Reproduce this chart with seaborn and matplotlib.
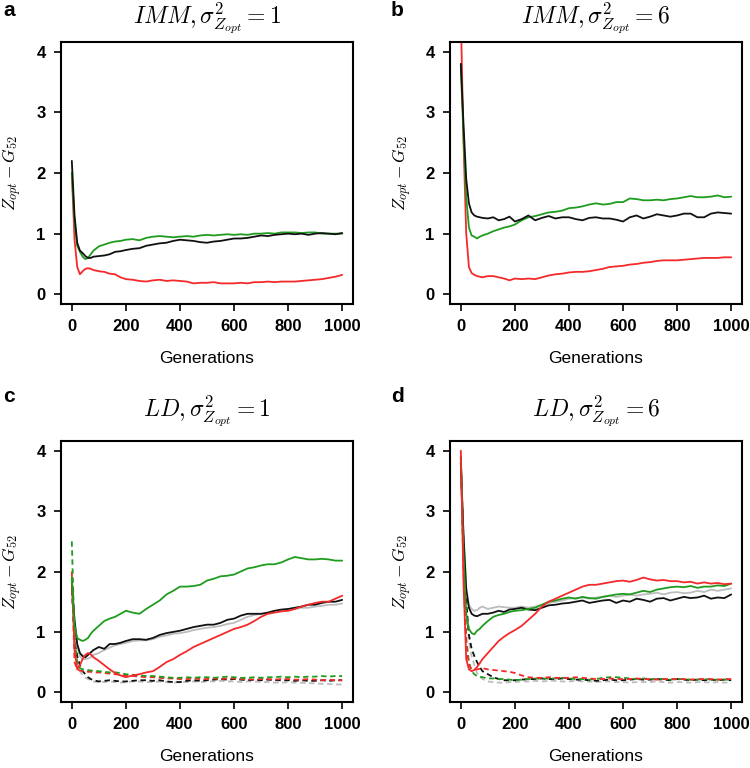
import matplotlib
matplotlib.use("Agg")
import matplotlib.pyplot as plt
import pandas as pd
import seaborn as sns

# ------------------------------------------------------------
# data
# ------------------------------------------------------------
gens = [0, 10, 20, 30, 40, 50, 60, 70, 80, 100, 120, 140, 160, 180,
        200, 225, 250, 275, 300, 325, 350, 375, 400, 425, 450, 475, 500,
        525, 550, 575, 600, 625, 650, 675, 700, 725, 750, 775, 800, 825,
        850, 875, 900, 925, 950, 975, 1000]

# panel a : IMM, sigma^2 = 1
a_red = [2.0, 0.9, 0.45, 0.33, 0.38, 0.42, 0.43, 0.42, 0.40, 0.38, 0.37, 0.34, 0.33, 0.28,
         0.25, 0.24, 0.22, 0.21, 0.23, 0.24, 0.22, 0.23, 0.22, 0.21, 0.18, 0.19, 0.19, 0.20, 0.18,
         0.18, 0.18, 0.19, 0.18, 0.20, 0.20, 0.21, 0.20, 0.21, 0.21, 0.21, 0.22, 0.23, 0.24, 0.25,
         0.27, 0.29, 0.32]
a_green = [2.0, 1.2, 0.8, 0.7, 0.62, 0.58, 0.6, 0.66, 0.72, 0.79, 0.82, 0.85, 0.87, 0.88,
           0.9, 0.91, 0.89, 0.93, 0.95, 0.96, 0.95, 0.94, 0.95, 0.96, 0.95, 0.97, 0.98, 0.97, 0.98,
           0.99, 0.98, 0.99, 0.98, 1.0, 1.0, 1.01, 1.0, 1.02, 1.02, 1.02, 1.01, 1.02, 1.02, 1.0,
           1.0, 1.0, 1.0]
a_black = [2.2, 1.3, 0.85, 0.72, 0.68, 0.63, 0.6, 0.6, 0.62, 0.63, 0.64, 0.66, 0.70, 0.71,
           0.73, 0.75, 0.76, 0.80, 0.82, 0.84, 0.85, 0.88, 0.90, 0.89, 0.88, 0.86, 0.85, 0.87, 0.88,
           0.90, 0.92, 0.92, 0.93, 0.95, 0.97, 0.96, 0.98, 0.99, 1.0, 0.99, 1.0, 0.98, 1.0, 1.01,
           1.0, 0.99, 1.01]

# panel b : IMM, sigma^2 = 6
b_red = [4.6, 2.5, 1.0, 0.45, 0.35, 0.32, 0.30, 0.29, 0.28, 0.30, 0.30, 0.28, 0.26, 0.23,
         0.26, 0.25, 0.26, 0.25, 0.28, 0.31, 0.33, 0.34, 0.36, 0.37, 0.37, 0.38, 0.40, 0.42, 0.45,
         0.46, 0.47, 0.49, 0.50, 0.52, 0.53, 0.55, 0.56, 0.56, 0.56, 0.57, 0.58, 0.59, 0.60, 0.60,
         0.60, 0.61, 0.61]
b_green = [3.75, 2.6, 1.6, 1.1, 0.97, 0.95, 0.92, 0.95, 0.97, 1.0, 1.04, 1.07, 1.1, 1.12,
           1.15, 1.22, 1.27, 1.29, 1.32, 1.35, 1.36, 1.38, 1.42, 1.43, 1.45, 1.48, 1.50, 1.48, 1.49,
           1.52, 1.52, 1.58, 1.57, 1.55, 1.55, 1.56, 1.55, 1.57, 1.58, 1.60, 1.62, 1.60, 1.60, 1.61,
           1.63, 1.60, 1.61]
b_black = [3.8, 2.8, 1.9, 1.5, 1.35, 1.30, 1.28, 1.27, 1.26, 1.25, 1.27, 1.22, 1.24, 1.28,
           1.20, 1.24, 1.30, 1.22, 1.26, 1.29, 1.25, 1.27, 1.27, 1.24, 1.22, 1.26, 1.27, 1.25, 1.25,
           1.23, 1.20, 1.27, 1.30, 1.25, 1.28, 1.32, 1.30, 1.28, 1.30, 1.33, 1.33, 1.27, 1.27, 1.33,
           1.35, 1.34, 1.33]

# panel c : LD, sigma^2 = 1 (solid and dashed runs)
c_red = [1.9, 0.7, 0.38, 0.45, 0.55, 0.62, 0.65, 0.63, 0.58, 0.52, 0.45, 0.38, 0.32, 0.28,
         0.25, 0.28, 0.30, 0.33, 0.35, 0.42, 0.50, 0.55, 0.62, 0.68, 0.75, 0.80, 0.85, 0.90, 0.95,
         1.00, 1.05, 1.08, 1.12, 1.18, 1.25, 1.30, 1.32, 1.34, 1.35, 1.38, 1.42, 1.45, 1.48, 1.50,
         1.50, 1.55, 1.60]
c_green = [1.9, 1.1, 0.9, 0.87, 0.85, 0.87, 0.90, 0.97, 1.02, 1.10, 1.18, 1.22, 1.25, 1.30,
           1.35, 1.32, 1.30, 1.38, 1.45, 1.52, 1.62, 1.68, 1.75, 1.75, 1.76, 1.78, 1.85, 1.88, 1.92,
           1.93, 1.95, 2.0, 2.05, 2.07, 2.10, 2.12, 2.12, 2.15, 2.20, 2.24, 2.22, 2.20, 2.20, 2.21,
           2.20, 2.18, 2.18]
c_black = [1.8, 1.2, 0.8, 0.65, 0.60, 0.58, 0.62, 0.66, 0.70, 0.75, 0.72, 0.80, 0.80, 0.82,
           0.85, 0.88, 0.88, 0.87, 0.90, 0.95, 0.98, 1.00, 1.02, 1.05, 1.08, 1.10, 1.12, 1.12, 1.15,
           1.20, 1.22, 1.27, 1.30, 1.30, 1.30, 1.32, 1.35, 1.37, 1.38, 1.40, 1.42, 1.45, 1.45, 1.48,
           1.50, 1.50, 1.53]
c_gray = [1.8, 1.1, 0.75, 0.6, 0.55, 0.55, 0.56, 0.58, 0.62, 0.65, 0.70, 0.74, 0.78, 0.80,
          0.82, 0.85, 0.86, 0.86, 0.88, 0.92, 0.94, 0.97, 0.98, 1.00, 1.03, 1.05, 1.07, 1.08, 1.10,
          1.13, 1.15, 1.20, 1.25, 1.28, 1.30, 1.30, 1.33, 1.35, 1.36, 1.38, 1.40, 1.40, 1.42, 1.43,
          1.45, 1.45, 1.47]
c_red_d = [2.0, 0.5, 0.38, 0.36, 0.35, 0.35, 0.34, 0.34, 0.33, 0.33, 0.32, 0.31, 0.30, 0.29,
           0.28, 0.27, 0.26, 0.25, 0.25, 0.24, 0.23, 0.23, 0.22, 0.22, 0.23, 0.22, 0.22, 0.23, 0.22,
           0.23, 0.23, 0.22, 0.22, 0.21, 0.22, 0.22, 0.21, 0.22, 0.22, 0.21, 0.21, 0.22, 0.21, 0.20,
           0.21, 0.20, 0.20]
c_green_d = [2.5, 0.9, 0.5, 0.40, 0.38, 0.38, 0.37, 0.36, 0.36, 0.35, 0.34, 0.33, 0.33, 0.32,
             0.30, 0.29, 0.28, 0.27, 0.27, 0.26, 0.25, 0.24, 0.24, 0.25, 0.24, 0.25, 0.25, 0.24,
             0.25, 0.26, 0.25, 0.24, 0.24, 0.25, 0.24, 0.25, 0.25, 0.26, 0.25, 0.26, 0.25, 0.26,
             0.26, 0.27, 0.26, 0.27, 0.27]
c_black_d = [1.7, 1.0, 0.6, 0.45, 0.35, 0.30, 0.25, 0.22, 0.20, 0.18, 0.19, 0.20, 0.19, 0.18,
             0.18, 0.19, 0.20, 0.20, 0.19, 0.20, 0.18, 0.17, 0.17, 0.19, 0.20, 0.19, 0.20, 0.21,
             0.22, 0.21, 0.22, 0.21, 0.20, 0.21, 0.20, 0.21, 0.20, 0.20, 0.20, 0.19, 0.20, 0.19,
             0.19, 0.20, 0.19, 0.20, 0.20]
c_gray_d = [1.7, 0.9, 0.5, 0.35, 0.28, 0.24, 0.22, 0.20, 0.18, 0.17, 0.17, 0.18, 0.17, 0.16,
            0.17, 0.18, 0.18, 0.17, 0.17, 0.18, 0.17, 0.16, 0.17, 0.17, 0.18, 0.17, 0.18, 0.18,
            0.19, 0.18, 0.18, 0.17, 0.18, 0.18, 0.17, 0.17, 0.16, 0.16, 0.17, 0.16, 0.16, 0.15,
            0.15, 0.14, 0.14, 0.13, 0.13]

# panel d : LD, sigma^2 = 6
d_red = [4.0, 1.8, 0.55, 0.38, 0.35, 0.37, 0.42, 0.48, 0.55, 0.65, 0.75, 0.85, 0.92, 0.98,
         1.03, 1.10, 1.20, 1.30, 1.42, 1.50, 1.55, 1.60, 1.65, 1.70, 1.75, 1.78, 1.78, 1.80, 1.82,
         1.84, 1.85, 1.83, 1.86, 1.90, 1.87, 1.85, 1.86, 1.84, 1.84, 1.82, 1.83, 1.80, 1.82, 1.80,
         1.81, 1.79, 1.80]
d_green = [3.9, 2.3, 1.3, 1.05, 0.98, 0.96, 1.02, 1.05, 1.10, 1.18, 1.25, 1.28, 1.30, 1.33,
           1.35, 1.36, 1.38, 1.40, 1.45, 1.50, 1.52, 1.55, 1.57, 1.55, 1.58, 1.56, 1.55, 1.58, 1.60,
           1.62, 1.63, 1.62, 1.65, 1.68, 1.66, 1.70, 1.72, 1.74, 1.75, 1.74, 1.76, 1.73, 1.75, 1.75,
           1.77, 1.76, 1.80]
d_black = [3.8, 2.6, 1.7, 1.4, 1.3, 1.27, 1.26, 1.28, 1.30, 1.30, 1.32, 1.35, 1.33, 1.37,
           1.38, 1.40, 1.37, 1.36, 1.40, 1.44, 1.45, 1.47, 1.48, 1.50, 1.52, 1.48, 1.50, 1.52, 1.53,
           1.48, 1.52, 1.50, 1.55, 1.53, 1.50, 1.55, 1.56, 1.52, 1.55, 1.58, 1.56, 1.57, 1.60, 1.55,
           1.57, 1.56, 1.62]
d_gray = [3.8, 2.6, 1.75, 1.45, 1.38, 1.35, 1.36, 1.40, 1.42, 1.38, 1.40, 1.42, 1.41, 1.40,
          1.40, 1.42, 1.40, 1.42, 1.45, 1.48, 1.50, 1.52, 1.55, 1.56, 1.57, 1.55, 1.57, 1.58, 1.60,
          1.58, 1.60, 1.62, 1.60, 1.62, 1.63, 1.65, 1.62, 1.65, 1.66, 1.64, 1.65, 1.68, 1.66, 1.70,
          1.68, 1.70, 1.72]
d_red_d = [3.9, 2.0, 0.8, 0.45, 0.38, 0.38, 0.38, 0.39, 0.40, 0.38, 0.37, 0.36, 0.35, 0.34,
           0.32, 0.28, 0.25, 0.24, 0.24, 0.25, 0.24, 0.24, 0.24, 0.25, 0.24, 0.23, 0.22, 0.22, 0.23,
           0.22, 0.22, 0.22, 0.23, 0.22, 0.22, 0.21, 0.22, 0.22, 0.22, 0.22, 0.21, 0.22, 0.22, 0.22,
           0.21, 0.22, 0.22]
d_green_d = [3.9, 2.2, 0.9, 0.5, 0.35, 0.30, 0.27, 0.26, 0.25, 0.23, 0.23, 0.22, 0.22, 0.21,
             0.20, 0.21, 0.22, 0.23, 0.22, 0.23, 0.23, 0.24, 0.23, 0.22, 0.22, 0.21, 0.22, 0.24,
             0.25, 0.25, 0.24, 0.23, 0.22, 0.23, 0.22, 0.22, 0.22, 0.21, 0.22, 0.22, 0.21, 0.21,
             0.22, 0.21, 0.21, 0.21, 0.21]
d_black_d = [3.8, 2.5, 1.5, 0.95, 0.72, 0.60, 0.50, 0.42, 0.35, 0.30, 0.25, 0.22, 0.20, 0.20,
             0.20, 0.21, 0.22, 0.22, 0.23, 0.22, 0.22, 0.23, 0.22, 0.21, 0.21, 0.20, 0.19, 0.20,
             0.21, 0.20, 0.20, 0.21, 0.22, 0.21, 0.21, 0.22, 0.21, 0.20, 0.22, 0.21, 0.20, 0.21,
             0.20, 0.21, 0.20, 0.21, 0.20]
d_gray_d = [3.8, 2.4, 1.4, 0.85, 0.60, 0.45, 0.32, 0.26, 0.22, 0.18, 0.17, 0.16, 0.16, 0.17,
            0.17, 0.18, 0.18, 0.19, 0.18, 0.19, 0.19, 0.18, 0.18, 0.19, 0.18, 0.18, 0.17, 0.18,
            0.18, 0.17, 0.17, 0.16, 0.17, 0.17, 0.17, 0.18, 0.17, 0.16, 0.17, 0.17, 0.16, 0.17,
            0.17, 0.16, 0.17, 0.16, 0.17]

colours = {"red": "#f42a2a", "green": "#1f9c1f", "black": "#111111", "gray": "#bdbdbd"}

panels = [
    ("a", "IMM", "1", [
        ("red", "solid", a_red), ("green", "solid", a_green), ("black", "solid", a_black)]),
    ("b", "IMM", "6", [
        ("red", "solid", b_red), ("green", "solid", b_green), ("black", "solid", b_black)]),
    ("c", "LD", "1", [
        ("gray", "dashed", c_gray_d), ("black", "dashed", c_black_d), ("red", "dashed", c_red_d),
        ("green", "dashed", c_green_d), ("gray", "solid", c_gray), ("black", "solid", c_black),
        ("red", "solid", c_red), ("green", "solid", c_green)]),
    ("d", "LD", "6", [
        ("gray", "dashed", d_gray_d), ("black", "dashed", d_black_d), ("green", "dashed", d_green_d),
        ("red", "dashed", d_red_d), ("gray", "solid", d_gray), ("black", "solid", d_black),
        ("green", "solid", d_green), ("red", "solid", d_red)]),
]

# axes boxes in pixels: left, top, width, height
boxes = {"a": (61, 42, 292, 262), "b": (450, 42, 292, 262),
         "c": (61, 441, 292, 261), "d": (450, 441, 292, 261)}

# ------------------------------------------------------------
# plotting
# ------------------------------------------------------------
sns.set_style("ticks")
plt.rcParams["mathtext.fontset"] = "cm"
plt.rcParams["font.family"] = ["Liberation Sans", "DejaVu Sans"]
plt.rcParams["text.color"] = "black"
plt.rcParams["axes.labelcolor"] = "black"

W, H = 750, 768
fig = plt.figure(figsize=(W / 100, H / 100), dpi=100)

for letter, model, var, series in panels:
    l, t, w, h = boxes[letter]
    ax = fig.add_axes([l / W, 1 - (t + h) / H, w / W, h / H])

    rows = []
    for i, (col, kind, vals) in enumerate(series):
        for g, v in zip(gens, vals):
            rows.append({"Generations": g, "value": v, "run": f"{i}", "col": col, "kind": kind})
    df = pd.DataFrame(rows)

    for run, sub in df.groupby("run", sort=False):
        kind = sub["kind"].iloc[0]
        sns.lineplot(data=sub, x="Generations", y="value", ax=ax, color=colours[sub["col"].iloc[0]],
                     lw=1.3, estimator=None, errorbar=None, legend=False,
                     linestyle="-" if kind == "solid" else (0, (3, 2)))

    ax.set_xlim(-40, 1040)
    ax.set_ylim(-0.16, 4.16)
    ax.set_xticks([0, 200, 400, 600, 800, 1000])
    ax.set_yticks([0, 1, 2, 3, 4])
    for s in ax.spines.values():
        s.set_visible(True)
        s.set_linewidth(1.5)
        s.set_color("black")
    ax.tick_params(length=5, width=1.2, pad=6, labelsize=12, colors="black")
    for lab in ax.get_xticklabels() + ax.get_yticklabels():
        lab.set_fontweight("bold")
    ax.set_xlabel("Generations", fontsize=12.5, labelpad=12)
    ax.set_ylabel(r"$Z_{opt} - G_{52}$", fontsize=12.5)
    ax.yaxis.set_label_coords(-0.125, 0.5)

    cx = (l + w / 2) / W
    ty = t - 24 if letter in "ab" else t - 30
    fig.text(cx, 1 - ty / H, r"$%s, \sigma^2_{Z_{opt}} = %s$" % (model, var),
             fontsize=17, ha="center", va="center")
    lx = 9 if letter in "ac" else 397
    ly = 11 if letter in "ab" else 396
    fig.text(lx / W, 1 - ly / H, letter, fontsize=15, fontweight="bold", ha="center", va="center")

fig.savefig("out.png", dpi=100)
